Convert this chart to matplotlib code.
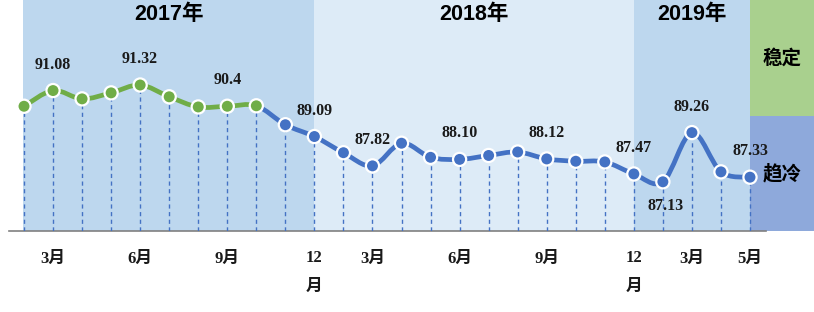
import numpy as np
import matplotlib
matplotlib.use('Agg')
import matplotlib.pyplot as plt
from matplotlib.path import Path
from matplotlib.patches import PathPatch

plt.rcParams['font.family'] = ['Liberation Serif', 'Noto Sans CJK SC', 'DejaVu Sans']

# ---------------- data ----------------
categories = ['2017-02', '2017-03', '2017-04', '2017-05', '2017-06', '2017-07', '2017-08',
              '2017-09', '2017-10', '2017-11', '2017-12',
              '2018-02', '2018-03', '2018-04', '2018-05', '2018-06', '2018-07', '2018-08',
              '2018-09', '2018-10', '2018-11', '2018-12',
              '2019-02', '2019-03', '2019-04', '2019-05']
values = [90.40, 91.08, 90.72, 90.98, 91.32, 90.81, 90.37, 90.40, 90.42, 89.60, 89.09,
          88.39, 87.82, 88.80, 88.19, 88.10, 88.27, 88.42, 88.12, 88.02, 87.99, 87.47,
          87.13, 89.26, 87.56, 87.33]

label_categories = ['2017-03', '2017-06', '2017-09', '2017-12', '2018-03', '2018-06',
                    '2018-09', '2018-12', '2019-02', '2019-03', '2019-05']
label_texts = ['91.08', '91.32', '90.4', '89.09', '87.82', '88.10', '88.12', '87.47',
               '87.13', '89.26', '87.33']

tick_categories = ['2017-03', '2017-06', '2017-09', '2017-12', '2018-03', '2018-06',
                   '2018-09', '2018-12', '2019-03', '2019-05']
tick_labels = ['3月', '6月', '9月', '12\n月', '3月', '6月', '9月', '12\n月', '3月', '5月']

year_names = ['2017年', '2018年', '2019年']
year_start = ['2017-02', '2017-12', '2018-12']
year_end = ['2017-12', '2018-12', '2019-05']

zone_names = ['稳定', '趋冷']
zone_low = [90, 85]
zone_high = [95, 90]
threshold = 90

# ---------------- styles ----------------
GREEN = '#70AD47'
BLUE = '#4472C4'
band_colors = ['#BDD7EE', '#DDEBF7', '#BDD7EE']
zone_colors = ['#A9D08E', '#8EA9DB']

W, H = 814, 312
fig = plt.figure(figsize=(W / 100, H / 100), dpi=100)
left_px, base_px = 9, 231
x0_px, dx_px = 24, 29.04
ax = fig.add_axes([left_px / W, (H - base_px) / H, (W - left_px) / W, base_px / H])
ax.set_xlim((left_px - x0_px) / dx_px, (W - x0_px) / dx_px)
ax.set_ylim(85, 95)
ax.patch.set_alpha(0)
for s in ax.spines.values():
    s.set_visible(False)
ax.set_yticks([])

pos = {c: i for i, c in enumerate(categories)}
x = np.arange(len(categories), dtype=float)
y = np.array(values)
xmax = ax.get_xlim()[1]

# year bands
for name, a, b, col in zip(year_names, year_start, year_end, band_colors):
    xa = pos[a] - (0.05 if a == categories[0] else 0)
    ax.axvspan(xa, pos[b], color=col, lw=0, zorder=0)
    ax.text((pos[a] + pos[b]) / 2, 94.38, name, ha='center', va='center', fontsize=15.5,
            fontweight='bold', family=['Liberation Sans', 'Noto Sans CJK SC'], zorder=5)

# zone blocks on the right
last = len(categories) - 1
for name, lo, hi, col in zip(zone_names, zone_low, zone_high, zone_colors):
    ax.fill_between([last, xmax + 1], lo, hi, color=col, lw=0, zorder=0, clip_on=False)
    ax.text((last + xmax) / 2, (lo + hi) / 2, name, ha='center', va='center', fontsize=14,
            fontweight='bold', family=['Noto Sans CJK SC'], zorder=5)

# baseline
ax.plot([ax.get_xlim()[0], last + 0.55], [85, 85], color='#808080', lw=1.2, zorder=2,
        clip_on=False)

# dashed drop lines
ax.vlines(x, 85, y, colors=BLUE, linestyles=(0, (3, 2.5)), lw=1.0, zorder=2)

# smooth line (Catmull-Rom -> cubic Bezier)
n = len(x)
pts = np.column_stack([x, y])
for i in range(n - 1):
    p0 = pts[max(i - 1, 0)]
    p1 = pts[i]
    p2 = pts[i + 1]
    p3 = pts[min(i + 2, n - 1)]
    c1 = p1 + (p2 - p0) / 6
    c2 = p2 - (p3 - p1) / 6
    path = Path([p1, c1, c2, p2], [Path.MOVETO, Path.CURVE4, Path.CURVE4, Path.CURVE4])
    col = GREEN if y[i + 1] >= threshold else BLUE
    ax.add_patch(PathPatch(path, fill=False, edgecolor=col, lw=3.4, capstyle='round',
                           joinstyle='round', zorder=3))

mcolors = [GREEN if v >= threshold else BLUE for v in y]
ax.scatter(x, y, s=90, c=mcolors, edgecolors='white', linewidths=1.6, zorder=4)

# data labels
for c, t in zip(label_categories, label_texts):
    i = pos[c]
    dy = -17.5 if c == '2019-02' else 18.7
    dx = 2 if c == '2019-02' else 0
    ax.annotate(t, (i, values[i]), xytext=(dx, dy), textcoords='offset points',
                ha='center', va='center', fontsize=11.5, fontweight='bold', color='#1a1a1a',
                zorder=6)

# x tick labels
ax.set_xticks([pos[c] for c in tick_categories])
ax.set_xticklabels(tick_labels, fontsize=12, fontweight='bold', color='#1a1a1a')
ax.tick_params(axis='x', length=0, pad=14)
for lab in ax.get_xticklabels():
    lab.set_linespacing(2.0)

fig.savefig('out.png', dpi=100)
